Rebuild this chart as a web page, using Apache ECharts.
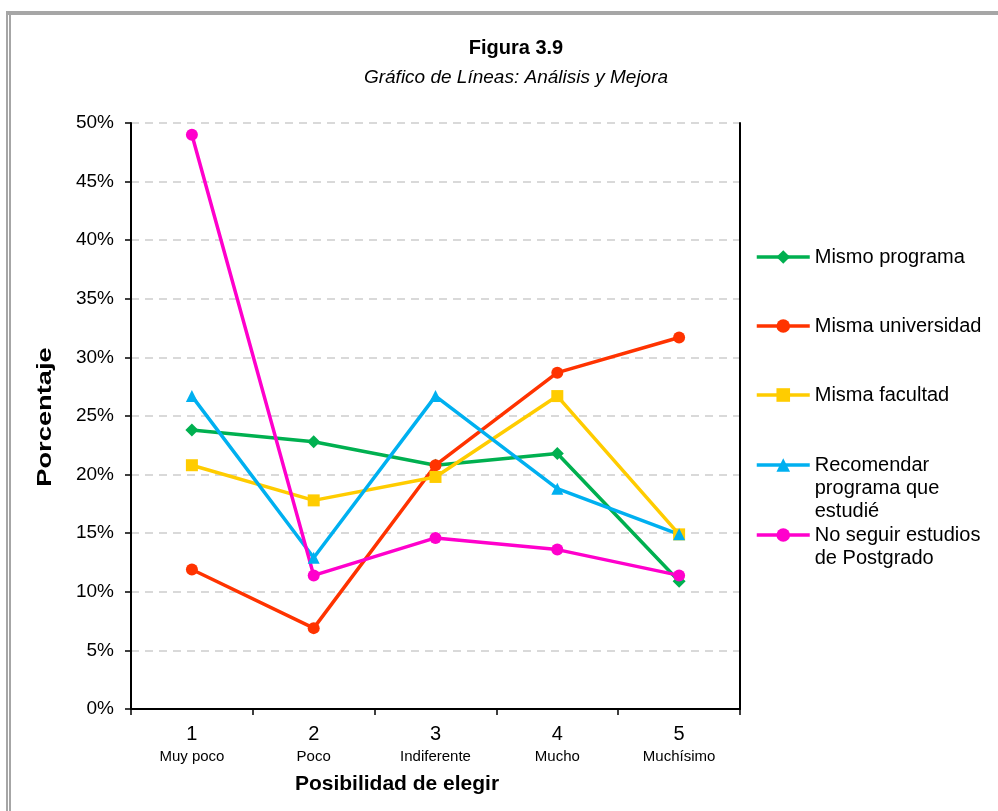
<!DOCTYPE html>
<html>
<head>
<meta charset="utf-8">
<script src="https://cdn.jsdelivr.net/npm/echarts@6/dist/echarts.min.js"></script>
<style>
  html, body { margin: 0; padding: 0; background: #fff; }
  #chart { width: 998px; height: 811px; }
</style>
</head>
<body>
<div id="chart"></div>
<script>
// Categories on the horizontal axis
const levels = ['1', '2', '3', '4', '5'];
const levelNames = ['Muy poco', 'Poco', 'Indiferente', 'Mucho', 'Muchísimo'];

// Percentages per answer
const mismoPrograma = [23.8, 22.8, 20.8, 21.8, 10.9];
const mismaUniversidad = [11.9, 6.9, 20.8, 28.7, 31.7];
const mismaFacultad = [20.8, 17.8, 19.8, 26.7, 14.9];
const recomendar = [26.7, 12.9, 26.7, 18.8, 14.9];
const noSeguir = [49.0, 11.4, 14.6, 13.6, 11.4];

const FONT = '"Liberation Sans", Arial, sans-serif';
const LINE_W = 3.5;

const seriesDefs = [
  { name: 'Mismo programa', data: mismoPrograma, color: '#00B050', symbol: 'diamond', size: 13 },
  { name: 'Misma universidad', data: mismaUniversidad, color: '#FF3300', symbol: 'circle', size: 12 },
  { name: 'Misma facultad', data: mismaFacultad, color: '#FFCC00', symbol: 'rect', size: 12 },
  { name: 'Recomendar\nprograma que\nestudié', data: recomendar, color: '#00B0F0', symbol: 'triangle', size: 12 },
  { name: 'No seguir estudios\nde Postgrado', data: noSeguir, color: '#FF00CC', symbol: 'circle', size: 12 }
];

// Legend icon centres (px from top), one legend block per series.
// Wrapped names hang below their icon: blank lines are put in front so
// the first line sits level with the icon.
const legendCenters = [257, 326, 395, 465, 535];
const LINE_H = 23;

const legends = seriesDefs.map((s, i) => {
  const lines = s.name.split('\n').length;
  const total = 2 * lines - 1;
  const boxH = total * LINE_H;
  const lead = ' \n'.repeat(lines - 1);
  return {
    data: [s.name],
    orient: 'vertical',
    left: 755,
    top: legendCenters[i] - boxH / 2,
    padding: 0,
    itemWidth: 53,
    itemHeight: 17,
    itemGap: 0,
    selectedMode: false,
    lineStyle: { width: LINE_W },
    formatter: name => lead + name,
    textStyle: {
      fontFamily: FONT,
      fontSize: 20,
      color: '#000',
      lineHeight: LINE_H
    }
  };
});

const chart = echarts.init(document.getElementById('chart'), null, { renderer: 'canvas' });

chart.setOption({
  backgroundColor: '#fff',
  animation: false,
  title: {
    text: 'Figura 3.9',
    subtext: 'Gráfico de Líneas: Análisis y Mejora',
    left: 511,
    top: 33,
    textAlign: 'center',
    itemGap: 10,
    textStyle: { fontFamily: FONT, fontSize: 20, fontWeight: 'bold', color: '#000', lineHeight: 20 },
    subtextStyle: { fontFamily: FONT, fontSize: 19, fontStyle: 'italic', color: '#000', lineHeight: 20 }
  },
  legend: legends,
  grid: { left: 131, right: 258, top: 123, bottom: 102 },
  xAxis: [
    {
      type: 'category',
      data: levels,
      boundaryGap: true,
      axisLine: { lineStyle: { color: '#000', width: 2 } },
      axisTick: { show: true, length: 6, inside: false, lineStyle: { color: '#000', width: 1.5 } },
      axisLabel: {
        margin: 13,
        formatter: (v, idx) => '{n|' + v + '}\n{s|' + levelNames[idx] + '}',
        rich: {
          n: { fontFamily: FONT, fontSize: 20, color: '#000', lineHeight: 24 },
          s: { fontFamily: FONT, fontSize: 15, color: '#000', lineHeight: 22 }
        }
      }
    },
    {
      type: 'category',
      data: levels,
      position: 'top',
      axisLine: { lineStyle: { color: '#000', width: 1.5 } },
      axisTick: { show: false },
      axisLabel: { show: false }
    }
  ],
  yAxis: [
    {
      type: 'value',
      min: 0,
      max: 50,
      interval: 5,
      axisLine: { show: true, lineStyle: { color: '#000', width: 2 } },
      axisTick: { show: true, length: 6, lineStyle: { color: '#000', width: 1.5 } },
      axisLabel: {
        margin: 17,
        formatter: '{value}%',
        fontFamily: FONT,
        fontSize: 19,
        color: '#000'
      },
      splitLine: { show: true, lineStyle: { color: '#D9D9D9', type: [8, 6], width: 2 } }
    },
    {
      type: 'value',
      min: 0,
      max: 50,
      interval: 5,
      position: 'right',
      axisLine: { show: true, lineStyle: { color: '#000', width: 2 } },
      axisTick: { show: false },
      axisLabel: { show: false },
      splitLine: { show: false }
    }
  ],
  series: seriesDefs.map(s => ({
    name: s.name,
    type: 'line',
    data: s.data,
    color: s.color,
    symbol: s.symbol,
    symbolSize: s.size,
    showSymbol: true,
    lineStyle: { width: LINE_W, color: s.color },
    itemStyle: { color: s.color },
    emphasis: { disabled: true }
  })),
  graphic: [
    // outer page frame
    { type: 'rect', shape: { x: 6, y: 11, width: 992, height: 4 }, style: { fill: '#A6A6A6' }, silent: true },
    { type: 'rect', shape: { x: 6, y: 11, width: 2, height: 800 }, style: { fill: '#A6A6A6' }, silent: true },
    { type: 'rect', shape: { x: 9, y: 11, width: 2, height: 800 }, style: { fill: '#A6A6A6' }, silent: true },
    // axis titles
    {
      type: 'text',
      x: 45, y: 417,
      rotation: Math.PI / 2,
      scaleX: 1.3,
      style: {
        text: 'Porcentaje',
        fontFamily: FONT, fontSize: 21, fontWeight: 'bold', fill: '#000',
        align: 'center', verticalAlign: 'middle'
      }
    },
    {
      type: 'text',
      x: 397, y: 784,
      style: {
        text: 'Posibilidad de elegir',
        fontFamily: FONT, fontSize: 21, fontWeight: 'bold', fill: '#000',
        align: 'center', verticalAlign: 'middle'
      }
    }
  ]
});
</script>
</body>
</html>
